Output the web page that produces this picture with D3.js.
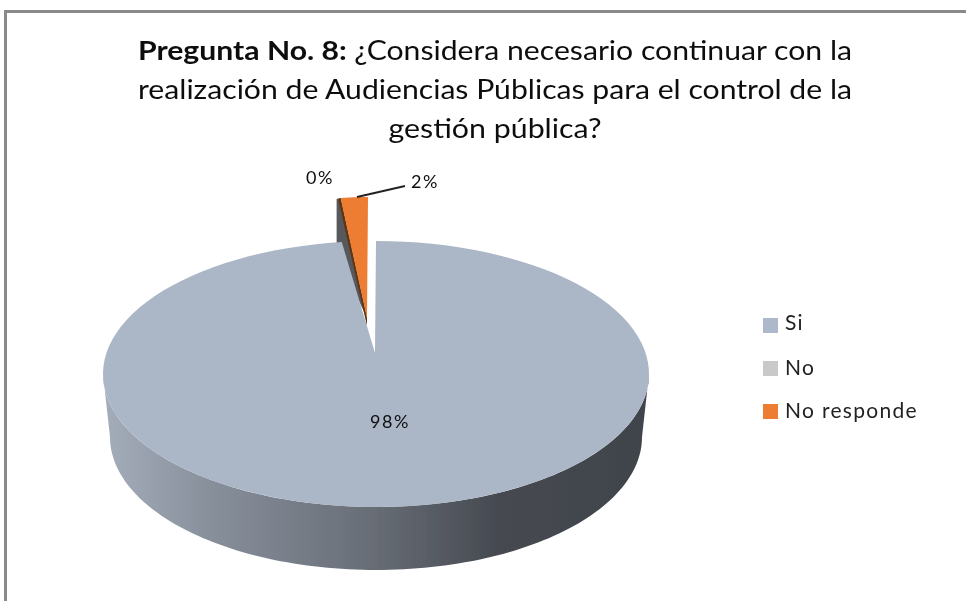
<!DOCTYPE html>
<html><head><meta charset="utf-8">
<script src="https://cdn.jsdelivr.net/npm/d3@7"></script>
<style>html,body{margin:0;padding:0;background:#fff}svg{display:block}text{font-family:Lato,"Open Sans",sans-serif}</style>
</head><body><svg id="c" width="966" height="601"></svg>
<script>
const categories = ["Si","No","No responde"];
const values = [98,0,2];
const labels = ["98%","0%","2%"];
const colors = ["#ADB9CA","#C9C9C9","#ED7D31"];
const titleLines = [
 [["Pregunta No. 8: ",700],["¿Considera necesario continuar con la",400]],
 [["realización de Audiencias Públicas para el control de la",400]],
 [["gestión pública?",400]]
];
const sideStops = [[0,"#a4adba"],[0.2,"#878f9b"],[0.5,"#676c75"],[0.72,"#464a51"],[1,"#40444b"]];

(function(){
const svg = d3.select("#c");
const cx=376,cy=374,rx=273,ry=133,depth=63,rxBottom=266;
const apex={x:375,y:353};
const defs=svg.append("defs");
const f=defs.append("filter").attr("id","soft").attr("x","-5%").attr("y","-5%").attr("width","110%").attr("height","110%");
f.append("feGaussianBlur").attr("stdDeviation",0.7);
const g=defs.append("linearGradient").attr("id","side").attr("gradientUnits","userSpaceOnUse")
  .attr("x1",cx-rx).attr("x2",cx+rx).attr("y1",0).attr("y2",0);
sideStops.forEach(s=>g.append("stop").attr("offset",s[0]).attr("stop-color",s[1]));

const root=svg.append("g").attr("filter","url(#soft)");
root.append("path").attr("d",`M5.5,601V11.5H966`).attr("fill","none").attr("stroke","#8a8a8a").attr("stroke-width",3);

const tg=root.append("g").attr("fill","#111").style("font-size","26px");
const titleW=[714,714,213];
titleLines.forEach((ln,i)=>{
  const t=tg.append("text").attr("x",495-titleW[i]/2).attr("y",[60,99,138][i])
    .attr("textLength",titleW[i]).attr("lengthAdjust","spacingAndGlyphs");
  ln.forEach(r=>t.append("tspan").attr("font-weight",r[1]).text(r[0]));
});

const arcs=d3.pie().sort(null).value(d=>d).startAngle(0).endAngle(2*Math.PI)(values);
const ex=(a,rr=rx)=>[cx+rr*Math.sin(a),cy-ry*Math.cos(a)];
const line=d3.line();
const arcPts=(a0,a1,rr=rx)=>d3.range(0,121).map(i=>ex(a0+(a1-a0)*i/120,rr));

const lower=arcPts(Math.PI/2,3*Math.PI/2);
const lowerB=arcPts(Math.PI/2,3*Math.PI/2,rxBottom).map(p=>[p[0],p[1]+depth]);
const wall=lower.concat(lowerB.reverse());
root.append("path").attr("d",line(wall)+"Z").attr("fill","url(#side)");

const o=arcs[2];
const dx=-8,dy=-44;
const oTop=arcPts(o.startAngle,o.endAngle,rx*0.8).map(p=>[p[0]+dx,p[1]+dy]);
const oApex=[apex.x-8,apex.y-35];
const tl=oTop[0];
root.append("path").attr("d",line([[tl[0]-4,tl[1]+1],tl,oApex,[tl[0]-4,tl[1]+56]])+"Z").attr("fill","#56585c");
root.append("path").attr("d",line([tl,oApex,[oApex[0],oApex[1]+8],[tl[0]-2.5,tl[1]+1]])+"Z").attr("fill","#5f3413");
root.append("path").attr("d",line([oApex].concat(oTop))+"Z").attr("fill",colors[2]);

const s=arcs[0];
const face=arcPts(s.startAngle,s.endAngle);
root.append("path").attr("d",line([[apex.x,apex.y]].concat(face))+"Z").attr("fill","#ABB6C7");

root.append("path").attr("d",line([[357,197],[405,186]])).attr("fill","none").attr("stroke","#222").attr("stroke-width",1.8);
const lab=root.append("g").attr("fill","#111").style("font-size","18px").style("letter-spacing","1.5px").attr("text-anchor","middle");
[[390,428],[320,184],[425,188]].forEach((p,i)=>lab.append("text").attr("x",p[0]).attr("y",p[1]).text(labels[i]));

const ly=d3.scalePoint().domain(categories).range([325,411]);
const lg=root.append("g").selectAll("g").data(categories).join("g").attr("transform",d=>`translate(763,${ly(d)})`);
lg.append("rect").attr("y",-7).attr("width",15).attr("height",15).attr("fill",(d,i)=>colors[i]);
lg.append("text").attr("x",22).attr("y",(d,i)=>i==0?5:7).attr("fill","#222").style("font-size","21px").style("letter-spacing","1.3px").text(d=>d);
})();
</script></body></html>
